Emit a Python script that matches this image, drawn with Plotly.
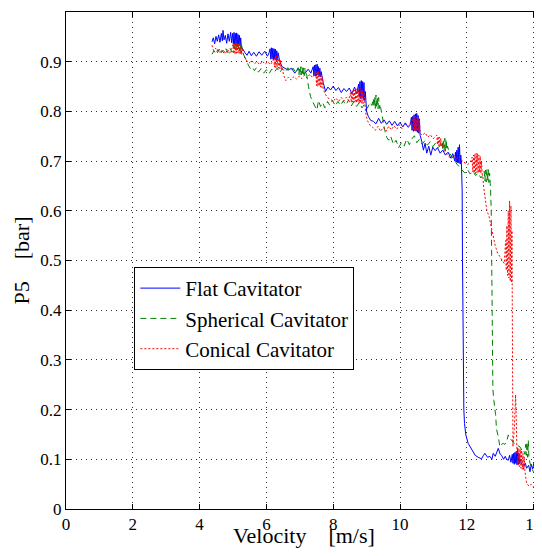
import plotly.graph_objects as go

# ---------------- data: (velocity m/s, P5 bar) ----------------
flat_points = [
    (4.37, .940), (4.41, .948), (4.45, .936), (4.49, .951), (4.53, .941), (4.57, .954), (4.61, .939),
    (4.65, .957), (4.68, .942), (4.70, .963), (4.73, .944), (4.77, .953), (4.81, .937), (4.85, .956),
    (4.89, .941), (4.93, .959), (4.96, .938),
    (4.99, .957), (5.01, .936), (5.03, .959), (5.05, .934), (5.07, .957), (5.09, .935), (5.11, .958),
    (5.13, .933), (5.15, .955), (5.17, .934), (5.19, .953), (5.21, .932), (5.23, .948), (5.25, .930),
    (5.30, .924), (5.36, .918), (5.42, .913), (5.48, .921), (5.55, .912), (5.62, .919), (5.70, .911),
    (5.78, .920), (5.86, .913), (5.95, .921), (6.03, .911), (6.08, .918),
    (6.11, .926), (6.13, .905), (6.15, .928), (6.17, .906), (6.19, .927), (6.21, .904), (6.23, .926),
    (6.25, .905), (6.27, .925), (6.29, .903), (6.31, .922), (6.33, .903), (6.35, .918),
    (6.40, .900), (6.47, .890), (6.55, .887), (6.65, .883), (6.75, .887), (6.85, .877), (6.95, .886),
    (7.05, .879), (7.15, .876), (7.25, .885), (7.33, .877),
    (7.40, .890), (7.42, .872), (7.44, .893), (7.46, .871), (7.48, .894), (7.50, .872), (7.52, .895),
    (7.54, .873), (7.56, .890), (7.58, .871), (7.60, .887), (7.62, .870), (7.64, .880),
    (7.70, .858), (7.77, .840), (7.84, .849), (7.92, .843), (8.00, .851), (8.08, .842), (8.16, .848),
    (8.24, .838), (8.32, .846), (8.40, .840), (8.48, .847), (8.56, .836), (8.64, .849), (8.70, .835),
    (8.76, .855), (8.78, .830), (8.80, .860), (8.82, .826), (8.84, .862), (8.86, .828), (8.88, .860),
    (8.90, .825), (8.92, .858), (8.94, .822), (8.96, .840),
    (9.00, .800), (9.05, .790), (9.12, .782), (9.20, .780), (9.28, .775), (9.36, .786), (9.44, .776),
    (9.52, .783), (9.60, .774), (9.68, .781), (9.76, .772), (9.84, .780), (9.92, .771), (10.00, .778),
    (10.08, .769), (10.16, .777), (10.24, .768), (10.30, .772),
    (10.34, .788), (10.36, .762), (10.38, .790), (10.40, .760), (10.42, .793), (10.44, .762),
    (10.46, .795), (10.48, .760), (10.50, .796), (10.52, .758), (10.54, .792), (10.56, .756),
    (10.58, .785), (10.60, .752),
    (10.65, .740), (10.70, .722), (10.75, .736), (10.80, .716), (10.86, .730), (10.92, .712),
    (10.98, .728), (11.05, .721), (11.12, .727), (11.20, .716), (11.28, .722), (11.36, .712),
    (11.44, .718), (11.52, .706), (11.58, .715), (11.64, .700),
    (11.66, .718), (11.68, .698), (11.70, .722), (11.72, .697), (11.74, .728), (11.76, .696),
    (11.78, .733), (11.80, .694), (11.82, .712), (11.84, .690),
    (11.86, .640), (11.87, .500), (11.88, .380), (11.89, .253), (11.91, .200), (11.93, .172),
    (11.97, .149), (12.04, .132), (12.10, .125), (12.19, .116), (12.25, .108), (12.34, .104),
    (12.44, .101), (12.50, .108), (12.54, .112), (12.62, .104), (12.69, .106), (12.75, .100),
    (12.79, .112), (12.85, .106), (12.89, .115), (12.94, .122), (13.00, .110), (13.04, .108),
    (13.10, .100), (13.15, .106), (13.19, .100), (13.24, .098), (13.28, .108), (13.32, .094),
    (13.36, .110), (13.38, .092), (13.40, .112), (13.42, .090), (13.44, .114), (13.46, .092),
    (13.48, .116), (13.50, .089), (13.52, .118), (13.54, .090), (13.56, .112), (13.58, .092),
    (13.60, .100), (13.64, .090), (13.70, .086), (13.75, .092), (13.79, .082), (13.85, .088),
    (13.89, .075), (13.93, .090), (13.97, .080), (14.01, .093), (14.05, .080), (14.09, .092),
    (14.13, .079), (14.17, .091), (14.21, .081), (14.25, .088),
]

spherical_points = [
    (4.37, .915), (4.43, .922), (4.49, .916), (4.55, .925), (4.61, .915), (4.67, .923), (4.73, .917),
    (4.79, .926), (4.85, .918), (4.91, .927), (4.97, .919),
    (5.02, .934), (5.04, .922), (5.06, .937), (5.08, .924), (5.10, .938), (5.12, .923), (5.14, .937),
    (5.16, .925), (5.18, .936), (5.20, .922), (5.22, .935), (5.24, .921), (5.26, .932), (5.28, .920),
    (5.34, .910), (5.40, .902), (5.46, .893), (5.52, .886), (5.58, .889), (5.64, .882), (5.70, .888),
    (5.76, .879), (5.84, .886), (5.92, .877), (6.00, .884), (6.08, .876), (6.16, .885), (6.24, .879),
    (6.32, .887), (6.40, .878), (6.48, .886), (6.56, .879), (6.64, .888), (6.72, .880), (6.80, .887),
    (6.88, .878),
    (6.95, .888), (6.97, .874), (6.99, .889), (7.01, .873), (7.03, .890), (7.05, .874), (7.07, .889),
    (7.09, .872), (7.11, .888), (7.13, .873), (7.15, .887), (7.17, .872), (7.20, .876),
    (7.26, .850), (7.32, .830), (7.38, .820), (7.44, .812), (7.51, .803), (7.56, .822), (7.62, .810),
    (7.68, .818), (7.75, .807), (7.83, .820), (7.90, .812), (7.98, .822), (8.06, .811), (8.14, .820),
    (8.22, .812), (8.30, .821), (8.38, .813), (8.46, .823), (8.54, .811), (8.62, .820), (8.70, .810),
    (8.78, .818), (8.86, .807), (8.94, .815), (9.02, .806), (9.10, .818), (9.16, .812),
    (9.20, .826), (9.22, .808), (9.24, .830), (9.26, .806), (9.28, .833), (9.30, .808), (9.32, .830),
    (9.34, .805), (9.36, .828), (9.38, .806), (9.40, .815),
    (9.45, .795), (9.50, .775), (9.55, .760), (9.60, .748), (9.66, .742), (9.72, .750), (9.80, .734),
    (9.88, .742), (9.96, .727), (10.04, .737), (10.12, .730), (10.20, .744), (10.28, .733),
    (10.36, .745), (10.43, .751), (10.50, .737), (10.58, .744), (10.66, .734), (10.74, .741),
    (10.82, .732), (10.90, .739), (10.98, .729), (11.06, .736), (11.14, .727), (11.22, .733),
    (11.26, .740), (11.28, .722), (11.30, .744), (11.32, .721), (11.34, .746), (11.36, .720),
    (11.38, .744), (11.40, .722), (11.42, .730),
    (11.48, .716), (11.55, .710), (11.62, .704), (11.70, .694), (11.78, .688), (11.86, .681),
    (11.94, .676), (12.02, .683), (12.10, .674), (12.18, .680), (12.26, .671), (12.34, .676),
    (12.42, .666), (12.48, .672),
    (12.52, .680), (12.54, .660), (12.56, .682), (12.58, .658), (12.60, .684), (12.62, .659),
    (12.64, .683), (12.66, .657), (12.68, .676), (12.70, .655),
    (12.71, .645), (12.73, .600), (12.75, .450), (12.77, .300), (12.78, .240), (12.81, .218),
    (12.86, .190), (12.89, .160), (12.94, .146), (12.99, .125), (13.04, .130), (13.09, .132),
    (13.14, .130), (13.19, .135), (13.24, .149), (13.29, .140), (13.34, .139), (13.39, .133),
    (13.44, .132), (13.52, .128), (13.59, .125), (13.65, .118), (13.69, .120), (13.74, .110),
    (13.76, .130), (13.78, .108), (13.80, .135), (13.82, .104), (13.84, .138), (13.86, .100),
    (13.89, .092), (13.94, .082), (13.99, .075), (14.05, .070), (14.09, .071), (14.15, .077),
    (14.20, .074), (14.25, .078),
]

conical_points = [
    (4.37, .933), (4.42, .922), (4.48, .927), (4.54, .918), (4.60, .925), (4.66, .917), (4.72, .924),
    (4.78, .916), (4.84, .925), (4.90, .917), (4.96, .926),
    (5.00, .935), (5.02, .916), (5.04, .936), (5.06, .915), (5.08, .937), (5.10, .917), (5.12, .938),
    (5.14, .918), (5.16, .936), (5.18, .916), (5.20, .934), (5.22, .915), (5.24, .932), (5.26, .914),
    (5.28, .928), (5.32, .912),
    (5.40, .903), (5.48, .897), (5.56, .902), (5.64, .896), (5.72, .900), (5.80, .894), (5.88, .901),
    (5.96, .895), (6.04, .900), (6.12, .894), (6.18, .900),
    (6.22, .908), (6.24, .889), (6.26, .910), (6.28, .888), (6.30, .911), (6.32, .889), (6.34, .909),
    (6.36, .887), (6.38, .907), (6.40, .886), (6.42, .904), (6.44, .885), (6.46, .890),
    (6.52, .872), (6.58, .862), (6.66, .869), (6.74, .863), (6.82, .870), (6.90, .865), (6.98, .871),
    (7.06, .866), (7.14, .873), (7.22, .867), (7.30, .875), (7.38, .868), (7.44, .874),
    (7.48, .882), (7.50, .852), (7.52, .880), (7.54, .850), (7.56, .879), (7.58, .851), (7.60, .876),
    (7.62, .849), (7.64, .873), (7.66, .848), (7.68, .868), (7.70, .845),
    (7.76, .835), (7.84, .827), (7.91, .825), (8.00, .820), (8.08, .827), (8.16, .820), (8.24, .828),
    (8.32, .821), (8.40, .829), (8.46, .822),
    (8.52, .838), (8.54, .818), (8.56, .840), (8.58, .819), (8.60, .842), (8.62, .818), (8.64, .843),
    (8.66, .820), (8.68, .845), (8.70, .817), (8.72, .846), (8.74, .819), (8.76, .845), (8.78, .816),
    (8.80, .846), (8.82, .817), (8.84, .843), (8.86, .815), (8.88, .842), (8.90, .816), (8.92, .838),
    (8.94, .812),
    (8.97, .798), (9.02, .782), (9.10, .772), (9.18, .768), (9.26, .762), (9.34, .770), (9.42, .760),
    (9.50, .768), (9.58, .760), (9.66, .770), (9.74, .763), (9.82, .771), (9.90, .764), (9.98, .773),
    (10.06, .765), (10.14, .776), (10.22, .769), (10.30, .775),
    (10.38, .786), (10.40, .762), (10.42, .789), (10.44, .760), (10.46, .790), (10.48, .761),
    (10.50, .788), (10.52, .760), (10.54, .786), (10.56, .758), (10.58, .783), (10.60, .756),
    (10.67, .752), (10.75, .757), (10.83, .748), (10.91, .753), (10.99, .745), (11.06, .749),
    (11.10, .752), (11.12, .733), (11.14, .750), (11.16, .731), (11.18, .748), (11.20, .730),
    (11.22, .746), (11.24, .729), (11.26, .735),
    (11.32, .721), (11.38, .716), (11.46, .709), (11.54, .705), (11.62, .712), (11.70, .705),
    (11.78, .710), (11.86, .700), (11.94, .697), (12.02, .693), (12.10, .697),
    (12.16, .708), (12.18, .678), (12.20, .712), (12.22, .676), (12.24, .714), (12.26, .675),
    (12.28, .716), (12.30, .677), (12.32, .715), (12.34, .676), (12.36, .712), (12.38, .678),
    (12.40, .710), (12.42, .675), (12.44, .700), (12.46, .672),
    (12.48, .668), (12.50, .650), (12.52, .640), (12.55, .625), (12.60, .600), (12.66, .590),
    (12.72, .570), (12.79, .547), (12.85, .530), (12.92, .515), (12.99, .507), (13.06, .500),
    (13.12, .494),
    (13.16, .540), (13.18, .480), (13.20, .570), (13.22, .470), (13.24, .600), (13.26, .465),
    (13.28, .620), (13.30, .458), (13.32, .610), (13.34, .455), (13.35, .560),
    (13.36, .400), (13.37, .300), (13.37, .200), (13.38, .125), (13.42, .160), (13.46, .230),
    (13.48, .180), (13.50, .110),
    (13.52, .125), (13.54, .088), (13.56, .122), (13.58, .085), (13.60, .120), (13.62, .082),
    (13.64, .118), (13.66, .080), (13.68, .112), (13.70, .078), (13.72, .105), (13.74, .075),
    (13.79, .052), (13.86, .046), (13.93, .050), (14.00, .044), (14.06, .049), (14.12, .043),
    (14.19, .048), (14.25, .045),
]

series_names = ["Flat Cavitator", "Spherical Cavitator", "Conical Cavitator"]
x_ticks = [0, 2, 4, 6, 8, 10, 12, 14]
y_ticks = [0, 0.1, 0.2, 0.3, 0.4, 0.5, 0.6, 0.7, 0.8, 0.9]
y_tick_text = ["0", "0.1", "0.2", "0.3", "0.4", "0.5", "0.6", "0.7", "0.8", "0.9"]

flat_v, flat_p = [list(t) for t in zip(*flat_points)]
sph_v, sph_p = [list(t) for t in zip(*spherical_points)]
con_v, con_p = [list(t) for t in zip(*conical_points)]

FONT = "Liberation Serif"

fig = go.Figure()
fig.add_trace(go.Scatter(x=flat_v, y=flat_p, mode="lines", name=series_names[0],
                         line=dict(color="#0000FF", width=1)))
fig.add_trace(go.Scatter(x=sph_v, y=sph_p, mode="lines", name=series_names[1],
                         line=dict(color="#008000", width=1, dash="6px,4px")))
fig.add_trace(go.Scatter(x=con_v, y=con_p, mode="lines", name=series_names[2],
                         line=dict(color="#FF0000", width=1, dash="2px,2px")))

axis_common = dict(
    showline=True, linecolor="black", linewidth=1,
    ticks="inside", ticklen=5, tickcolor="black", tickwidth=1,
    showgrid=True, gridcolor="#333333", gridwidth=1, griddash="1px,4px",
    zeroline=False, ticklabeloverflow="allow",
    tickfont=dict(family=FONT, size=17, color="black"),
)

fig.update_xaxes(**axis_common, range=[0, 14.25], tickvals=x_ticks, mirror="ticks",
                 title=dict(text="Velocity\u00a0\u00a0\u00a0\u00a0[m/s]",
                            font=dict(family=FONT, size=22, color="black"), standoff=4))
fig.update_yaxes(**axis_common, range=[0, 1.0], tickvals=y_ticks, ticktext=y_tick_text, mirror=False,
                 title=dict(text="P5\u00a0\u00a0\u00a0\u00a0[bar]",
                            font=dict(family=FONT, size=22, color="black"), standoff=4))

# the page body has an 8px default margin, so the figure is sized to end at the window edge
fig.update_layout(
    width=534, height=540,
    margin=dict(l=58, r=0, t=4, b=39, autoexpand=False),
    plot_bgcolor="white", paper_bgcolor="white",
    showlegend=True,
    legend=dict(x=0.1436, y=0.487, xanchor="left", yanchor="top",
                bgcolor="white", bordercolor="black", borderwidth=1,
                font=dict(family=FONT, size=21, color="black"),
                tracegroupgap=0, itemwidth=40),
)

fig.write_html("out.html")
